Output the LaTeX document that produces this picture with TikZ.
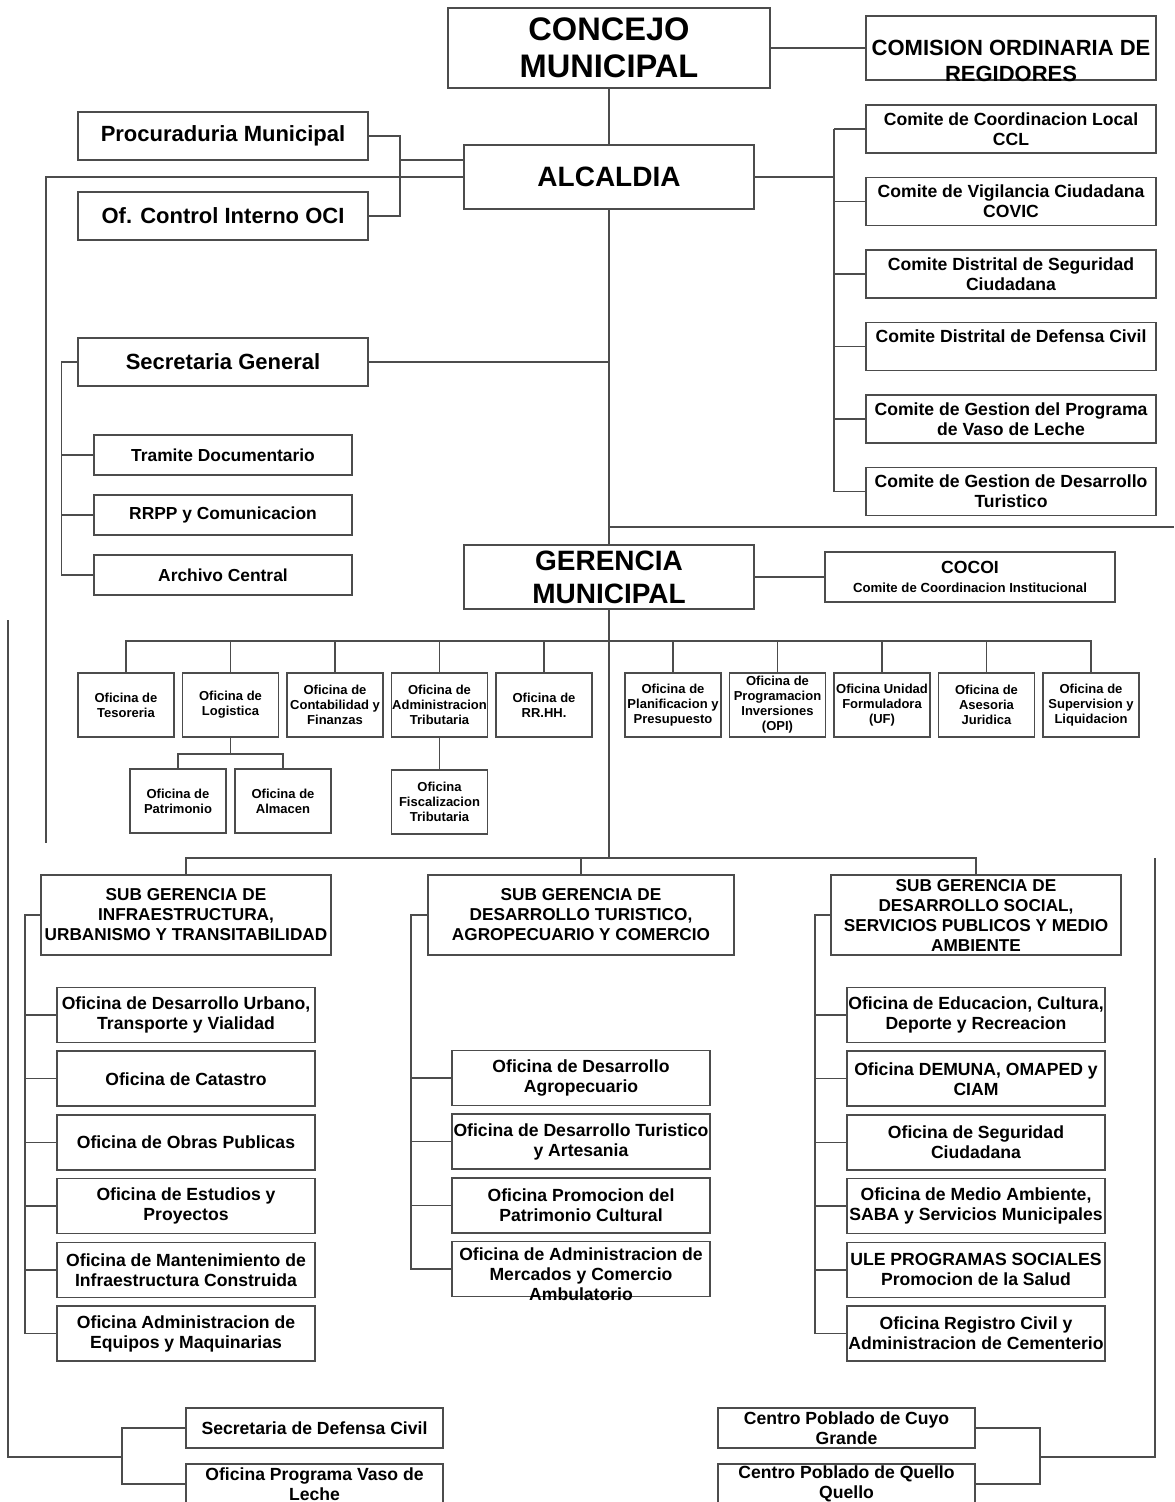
\documentclass[tikz,border=0pt]{standalone}
\usepackage{fontspec}
\setmainfont{Liberation Sans}
\usetikzlibrary{positioning, calc}

\begin{document}
\begin{tikzpicture}[
  x=0.5pt, y=-0.5pt,
  line width=0.75pt, color=black!70,
  box/.style    = {draw, rectangle, fill=white, text=black, align=center, inner sep=0pt},
  head/.style   = {box, minimum width=145pt, minimum height=32pt, font=\bfseries\fontsize{14}{16.5}\selectfont},
  side/.style   = {box, minimum width=145pt, minimum height=24pt, font=\bfseries\fontsize{11}{13}\selectfont},
  comite/.style = {box, minimum width=145pt, minimum height=24pt, font=\bfseries\fontsize{8.8}{10}\selectfont},
  minor/.style  = {box, minimum width=129pt, minimum height=20pt, font=\bfseries\fontsize{8.7}{10}\selectfont},
  office/.style = {box, minimum width=48pt, minimum height=32pt, font=\bfseries\fontsize{6.5}{7.5}\selectfont},
  subg/.style   = {box, minimum width=145pt, minimum height=40pt, font=\bfseries\fontsize{8.6}{10}\selectfont},
  unit/.style   = {box, minimum width=129pt, minimum height=27.5pt, font=\bfseries\fontsize{8.8}{10}\selectfont},
  label/.style  = {text=black, align=center, inner sep=0pt},
]
  \clip (0,0) rectangle (1174,1502);

  % top level
  \node[head, minimum width=161pt, minimum height=40pt,
        font=\bfseries\fontsize{16.3}{18.5}\selectfont] (concejo) at (609,48) {CONCEJO\\MUNICIPAL};
  \node[box, minimum width=145pt, minimum height=32pt]     (comision) at (1011,48) {};
  \node[label, font=\bfseries\fontsize{11}{13}\selectfont]
        (comisiontxt) at (1011,61) {COMISION ORDINARIA DE\\REGIDORES};
  \node[head] (alcaldia) at (609,177) {ALCALDIA};

  \node[side] (procura) at (223,136) {Procuraduria Municipal};
  \node[side] (oci)     at (223,216) {Of. Control Interno OCI};

  % comites
  \node[comite]                       (ccl)    at (1011,129) {Comite de Coordinacion Local\\CCL};
  \node[comite, below=11.5pt of ccl]    (covic)  {Comite de Vigilancia Ciudadana\\COVIC};
  \node[comite, below=11.5pt of covic]  (cseg)   {Comite Distrital de Seguridad\\Ciudadana};
  \node[comite, below=11.5pt of cseg]   (cdef)   {Comite Distrital de Defensa Civil\\\mbox{}};
  \node[comite, below=11.5pt of cdef]   (cvaso)  {Comite de Gestion del Programa\\de Vaso de Leche};
  \node[comite, below=11.5pt of cvaso]  (cturis) {Comite de Gestion de Desarrollo\\Turistico};

  % secretaria general
  \node[side] (secgen) at (223,362) {Secretaria General};
  \node[minor] (tramite) at (223,455) {Tramite Documentario};
  \node[minor, below=9.3pt of tramite] (rrpp)    {RRPP y Comunicacion};
  \node[minor, below=9.3pt of rrpp]    (archivo) {Archivo Central};

  % gerencia
  \node[head] (gerencia) at (609,577) {GERENCIA\\MUNICIPAL};
  \node[box, minimum width=145pt, minimum height=25pt, font=\bfseries\fontsize{8.8}{9.5}\selectfont]
        (cocoi) at (970,577) {COCOI\\{\fontsize{6.6}{8}\selectfont Comite de Coordinacion Institucional}};

  \node[office] (tesor)  at (126,705) {Oficina de\\Tesoreria};
  \node[office, right=3.5pt of tesor]  (logis)  {Oficina de\\Logistica};
  \node[office, right=3.5pt of logis]  (conta)  {Oficina de\\Contabilidad y\\Finanzas};
  \node[office, right=3.5pt of conta]  (admtri) {Oficina de\\Administracion\\Tributaria};
  \node[office, right=3.5pt of admtri] (rrhh)   {Oficina de\\RR.HH.};
  \node[office] (planif) at (673,705) {Oficina de\\Planificacion y\\Presupuesto};
  \node[office, right=3.5pt of planif] (progra) {Oficina de\\Programacion\\Inversiones\\(OPI)};
  \node[office, right=3.5pt of progra] (formul) {Oficina Unidad\\Formuladora\\(UF)};
  \node[office, right=3.5pt of formul] (asesor) {Oficina de\\Asesoria\\Juridica};
  \node[office, right=3.5pt of asesor] (superv) {Oficina de\\Supervision y\\Liquidacion};

  \node[office] (patri)  at (178,801) {Oficina de\\Patrimonio};
  \node[office] (almac)  at (283,801) {Oficina de\\Almacen};
  \node[office] (fiscal) at (admtri |- 0,802) {Oficina\\Fiscalizacion\\Tributaria};

  % sub gerencias
  \node[subg] (sub1) at (186,915) {SUB GERENCIA DE\\INFRAESTRUCTURA,\\URBANISMO Y TRANSITABILIDAD};
  \node[subg, minimum width=153pt] (sub2) at (581,915) {SUB GERENCIA DE\\DESARROLLO TURISTICO,\\AGROPECUARIO Y COMERCIO};
  \node[subg] (sub3) at (976,915) {SUB GERENCIA DE\\DESARROLLO SOCIAL,\\SERVICIOS PUBLICOS Y MEDIO\\AMBIENTE};

  \node[unit] (urbano) at (186,1015) {Oficina de Desarrollo Urbano,\\Transporte y Vialidad};
  \node[unit, below=3.6pt of urbano] (catas) {Oficina de Catastro};
  \node[unit, below=3.6pt of catas]  (obras) {Oficina de Obras Publicas};
  \node[unit, below=3.6pt of obras]  (estud) {Oficina de Estudios y\\Proyectos};
  \node[unit, below=3.6pt of estud]  (mante) {Oficina de Mantenimiento de\\Infraestructura Construida};
  \node[unit, below=3.6pt of mante]  (equip) {Oficina Administracion de\\Equipos y Maquinarias};

  \node[unit] (agro) at (581,1078) {Oficina de Desarrollo\\Agropecuario};
  \node[unit, below=3.6pt of agro]  (turis) {Oficina de Desarrollo Turistico\\y Artesania};
  \node[unit, below=3.6pt of turis] (patcul) {Oficina Promocion del\\Patrimonio Cultural};
  \node[unit, below=3.6pt of patcul] (merca) {};
  \node[label, font=\bfseries\fontsize{8.8}{10}\selectfont] (mercatxt) at ([yshift=-2.5pt]merca.center)
        {Oficina de Administracion de\\Mercados y Comercio\\Ambulatorio};

  \node[unit] (educ) at (976,1015) {Oficina de Educacion, Cultura,\\Deporte y Recreacion};
  \node[unit, below=3.6pt of educ]   (demuna) {Oficina DEMUNA, OMAPED y\\CIAM};
  \node[unit, below=3.6pt of demuna] (segur)  {Oficina de Seguridad\\Ciudadana};
  \node[unit, below=3.6pt of segur]  (medio)  {Oficina de Medio Ambiente,\\SABA y Servicios Municipales};
  \node[unit, below=3.6pt of medio]  (ule)    {ULE PROGRAMAS SOCIALES\\Promocion de la Salud};
  \node[unit, below=3.6pt of ule]    (regciv) {Oficina Registro Civil y\\Administracion de Cementerio};

  % bottom
  \node[unit, minimum width=128.5pt, minimum height=20pt] (defciv) at (314.5,1428) {Secretaria de Defensa Civil};
  \node[unit, minimum width=128.5pt, minimum height=20pt] (vaso)   at (314.5,1484) {Oficina Programa Vaso de\\Leche};
  \node[unit, minimum width=128.5pt, minimum height=20pt] (cuyo)   at (846.5,1428) {Centro Poblado de Cuyo\\Grande};
  \node[unit, minimum width=128.5pt, minimum height=20pt] (quello) at (846.5,1484) {Centro Poblado de Quello\\Quello};

  % connectors
  \coordinate (procjoin) at (400,160);
  \coordinate (leftend)  at (46,843);
  \coordinate (combus)   at (834,177);
  \coordinate (rightout) at (1174,527);
  \coordinate (obus)     at (609,641);
  \coordinate (lbus)     at (logis.south |- 0,754);
  \coordinate (sbus)     at (609,858);
  \coordinate (b1)       at (25,915);
  \coordinate (b2)       at (411,915);
  \coordinate (b3)       at (815,915);
  \coordinate (farleft)  at (8,620);
  \coordinate (lb)       at (122,1457);
  \coordinate (farright) at (1155,858);
  \coordinate (rb)       at (1040,1457);

  \draw (concejo) -- (comision);
  \draw (concejo) -- (alcaldia);
  \draw (procura.east) -| (procjoin) |- (oci.east);
  \draw (procjoin) -- (procjoin -| alcaldia.west);
  \draw (alcaldia.west) -| (leftend);

  \draw (alcaldia.east) -- (combus);
  \draw (ccl.west -| combus) -- (cturis.west -| combus);
  \foreach \c in {ccl, covic, cseg, cdef, cvaso, cturis}
    \draw (\c.west) -- (\c.west -| combus);

  \draw (alcaldia) -- (gerencia);
  \draw (secgen.east) -- (secgen.east -| alcaldia.south);
  \draw (rightout -| alcaldia.south) -- (rightout);
  \draw (secgen.west) -- ++(-16,0) |- (archivo.west);
  \draw (tramite.west) -- ++(-32,0);
  \draw (rrpp.west) -- ++(-32,0);

  \draw (gerencia) -- (cocoi);
  \draw (gerencia.south) -- (sbus);
  \draw (tesor.north) |- (obus) -| (superv.north);
  \foreach \o in {logis, conta, admtri, rrhh, planif, progra, formul, asesor}
    \draw (\o.north) -- (\o.north |- obus);
  \draw (logis.south) -- (lbus);
  \draw (patri.north) |- (lbus) -| (almac.north);
  \draw (admtri) -- (fiscal);

  \draw (sub1.north) |- (sbus) -| (sub3.north);
  \draw (sub2.north) -- (sub2.north |- sbus);

  \draw (sub1.west) -| (b1) |- (equip.west);
  \foreach \u in {urbano, catas, obras, estud, mante}
    \draw (\u.west) -- (\u.west -| b1);
  \draw (sub2.west) -| (b2) |- (merca.west);
  \foreach \u in {agro, turis, patcul}
    \draw (\u.west) -- (\u.west -| b2);
  \draw (sub3.west) -| (b3) |- (regciv.west);
  \foreach \u in {educ, demuna, segur, medio, ule}
    \draw (\u.west) -- (\u.west -| b3);

  \draw (farleft) |- (lb);
  \draw (defciv.west) -| (lb) |- (vaso.west);
  \draw (farright) |- (rb);
  \draw (cuyo.east) -| (rb) |- (quello.east);
\end{tikzpicture}
\end{document}
